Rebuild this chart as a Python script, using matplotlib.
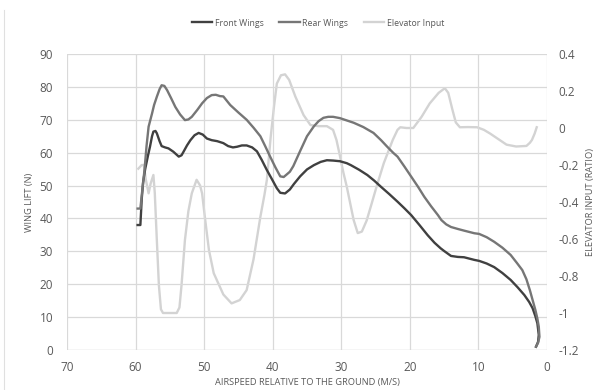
import matplotlib
matplotlib.use("Agg")
import matplotlib.pyplot as plt
from matplotlib.lines import Line2D

# wing lift (N) against airspeed (m/s)
front_x = [59.7, 59.3, 59.1, 58.9, 58.6, 58.2, 57.9, 57.6, 57.4, 57.1, 56.9, 56.5,
           56.2, 55.7, 55.2, 54.5, 53.7, 53.3, 53.0, 52.5, 52.0, 51.4, 50.8, 50.2,
           49.6, 48.9, 48.1, 47.2, 46.5, 45.8, 45.2, 44.5, 43.8, 43.0, 42.3, 41.6,
           40.9, 40.0, 39.4, 38.9, 38.2, 37.5, 36.9, 36.0, 35.0, 34.0, 33.0, 32.1,
           31.2, 30.2, 29.2, 28.6, 27.4, 26.2, 25.2, 24.2, 23.0, 21.8, 20.8, 19.8,
           18.6, 17.4, 16.4, 15.5, 15.0, 14.0, 13.0, 12.1, 10.6, 9.9, 8.8, 7.7,
           6.5, 5.3, 4.3, 3.3, 2.6, 2.1, 1.7, 1.4, 1.2, 1.3, 1.6]
front_y = [38.0, 38.0, 46.0, 51.0, 55.0, 59.0, 61.8, 65.0, 66.4, 66.6, 65.9, 63.5,
           62.0, 61.6, 61.3, 60.3, 58.8, 59.2, 60.3, 62.2, 63.8, 65.3, 66.0, 65.5,
           64.3, 63.8, 63.5, 62.9, 62.0, 61.6, 61.8, 62.2, 62.2, 61.6, 60.4, 57.8,
           54.9, 51.5, 49.2, 47.8, 47.6, 48.8, 50.5, 52.8, 54.9, 56.2, 57.2, 57.7,
           57.6, 57.4, 56.8, 56.2, 54.8, 53.2, 51.5, 49.6, 47.4, 45.1, 43.1, 41.0,
           38.0, 34.9, 32.6, 30.9, 30.1, 28.6, 28.3, 28.2, 27.4, 27.1, 26.3, 25.2,
           23.4, 21.3, 19.1, 16.7, 14.6, 12.7, 10.3, 8.1, 4.6, 2.5, 1.0]

rear_x = [59.7, 59.3, 59.0, 58.7, 58.4, 58.1, 57.6, 57.3, 56.9, 56.5, 56.2, 55.8,
          55.4, 54.8, 54.2, 53.5, 52.8, 52.3, 51.8, 51.0, 50.3, 49.6, 48.9, 48.3,
          47.7, 47.2, 46.2, 45.0, 43.8, 42.8, 41.8, 41.1, 40.4, 39.6, 38.9, 38.4,
          38.0, 37.5, 37.0, 36.0, 35.0, 34.0, 33.3, 32.6, 31.9, 31.2, 30.2, 29.2,
          28.2, 26.8, 25.3, 24.2, 23.3, 22.4, 21.8, 20.8, 19.8, 18.8, 17.9, 16.9,
          15.9, 15.4, 14.7, 14.0, 13.0, 12.1, 10.6, 9.9, 8.8, 7.7, 6.5, 5.3,
          4.4, 3.6, 3.0, 2.5, 2.1, 1.7, 1.4, 1.2, 1.1, 1.3, 1.6]
rear_y = [43.0, 43.0, 49.0, 54.7, 62.0, 67.9, 71.9, 74.5, 77.0, 79.3, 80.5, 80.3,
          79.0, 76.5, 73.9, 71.6, 69.9, 70.1, 70.9, 73.0, 75.0, 76.6, 77.5, 77.6,
          77.2, 77.1, 74.5, 72.2, 70.0, 67.6, 65.0, 62.0, 58.9, 55.5, 52.8, 52.6,
          53.3, 54.2, 55.9, 60.5, 65.0, 68.0, 69.6, 70.6, 70.9, 70.9, 70.5, 69.8,
          69.1, 67.8, 66.0, 63.8, 61.8, 59.9, 58.8, 55.8, 52.7, 49.6, 46.6, 43.7,
          41.0, 39.5, 38.2, 37.4, 36.8, 36.3, 35.5, 35.3, 34.3, 32.9, 31.1, 28.9,
          26.5, 24.3, 21.5, 18.2, 15.2, 12.2, 9.5, 7.1, 4.0, 2.2, 1.0]

# elevator input (ratio), right axis
elev_x = [59.6, 59.1, 58.8, 58.5, 58.1, 57.8, 57.4, 57.2, 56.9, 56.6, 56.3, 56.0,
          55.0, 54.0, 53.6, 53.3, 52.8, 52.3, 51.8, 51.1, 50.6, 50.3, 49.9, 49.3,
          48.6, 47.2, 46.0, 44.8, 43.8, 42.8, 41.8, 41.2, 40.85, 40.3, 39.8, 39.4,
          38.8, 38.2, 37.6, 36.7, 35.5, 34.5, 33.3, 32.1, 31.2, 30.7, 30.2, 29.7,
          29.2, 28.2, 27.6, 27.0, 26.3, 25.7, 24.8, 23.8, 22.5, 21.8, 21.4, 20.5,
          19.5, 18.3, 17.1, 15.8, 14.9, 14.4, 13.8, 13.3, 12.7, 11.5, 10.2, 9.2,
          8.3, 7.1, 5.9, 4.5, 3.0, 2.5, 2.2, 1.8, 1.5]
elev_y = [-0.22, -0.20, -0.20, -0.28, -0.353, -0.30, -0.254, -0.35, -0.605, -0.85, -0.98, -1.0,
          -1.0, -1.0, -0.97, -0.85, -0.605, -0.45, -0.353, -0.28, -0.31, -0.353, -0.48, -0.66,
          -0.785, -0.90, -0.948, -0.93, -0.876, -0.71, -0.48, -0.36, -0.28, -0.05, 0.12, 0.24,
          0.285, 0.29, 0.26, 0.17, 0.07, 0.016, 0.01, 0.01, -0.01, -0.065, -0.15, -0.24,
          -0.317, -0.497, -0.568, -0.56, -0.50, -0.425, -0.31, -0.19, -0.065, -0.01, 0.004, 0.0,
          0.0, 0.06, 0.133, 0.19, 0.215, 0.19, 0.10, 0.03, 0.004, 0.005, 0.004, -0.01,
          -0.03, -0.06, -0.09, -0.10, -0.097, -0.08, -0.065, -0.03, 0.004]

left_ticks = [0, 10, 20, 30, 40, 50, 60, 70, 80, 90]
right_ticks = [0.4, 0.2, 0, -0.2, -0.4, -0.6, -0.8, -1, -1.2]
right_labels = ["0.4", "0.2", "0", "-0.2", "-0.4", "-0.6", "-0.8", "-1", "-1.2"]
x_ticks = [70, 60, 50, 40, 30, 20, 10, 0]

plt.rcParams['font.family'] = ['Open Sans', 'DejaVu Sans']
txt = '#595959'
grid = '#d9d9d9'

fig = plt.figure(figsize=(6.02, 3.9), dpi=100)
ax = fig.add_axes([67 / 602, 1 - 350 / 390, 480 / 602, 296 / 390])
ax2 = ax.twinx()

line1, = ax.plot(front_x, front_y, color='#404040', lw=1.7, label='Front Wings',
                 solid_joinstyle='round', zorder=3)
line2, = ax.plot(rear_x, rear_y, color='#767676', lw=1.7, label='Rear Wings',
                 solid_joinstyle='round', zorder=3)
line3, = ax2.plot(elev_x, elev_y, color='#d3d3d3', lw=1.7, label='Elevator Input',
                  solid_joinstyle='round')

ax.set_xlim(70, 0)
ax.set_ylim(0, 90)
ax2.set_ylim(-1.2, 0.4)
ax.set_xticks(x_ticks)
ax.set_yticks(left_ticks)
ax2.set_yticks(right_ticks)
ax2.set_yticklabels(right_labels)

ax.grid(True, color=grid, lw=0.9)
ax.set_axisbelow(True)
for a in (ax, ax2):
    for s in a.spines.values():
        s.set_visible(False)
    a.tick_params(length=0, colors=txt, labelsize=8.5)
ax.tick_params(axis='x', pad=8)
ax.tick_params(axis='y', pad=10)
ax2.tick_params(axis='y', pad=8)
ax.axhline(0, color=grid, lw=0.9)

ax.set_xlabel('AIRSPEED RELATIVE TO THE GROUND (M/S)', fontsize=6.7, color=txt, labelpad=3)
ax.set_ylabel('WING LIFT (N)', fontsize=6.7, color=txt, labelpad=4)
ax2.set_ylabel('ELEVATOR INPUT (RATIO)', fontsize=6.7, color=txt, labelpad=5)

# keep the elevator line underneath the wing lines
ax.set_zorder(ax2.get_zorder() + 1)
ax.patch.set_visible(False)

fig.legend(handles=[line1, line2, line3], loc='center', bbox_to_anchor=(318 / 602, 1 - 23 / 390),
           ncol=3, frameon=False, fontsize=6.3, handlelength=2.3, handletextpad=0.3,
           columnspacing=1.8, labelcolor=txt)

fig.add_artist(Line2D([4 / 602, 4 / 602], [0, 1 - 10 / 390], color='#e0e0e0', lw=0.8))

fig.savefig('out.png', dpi=100)
